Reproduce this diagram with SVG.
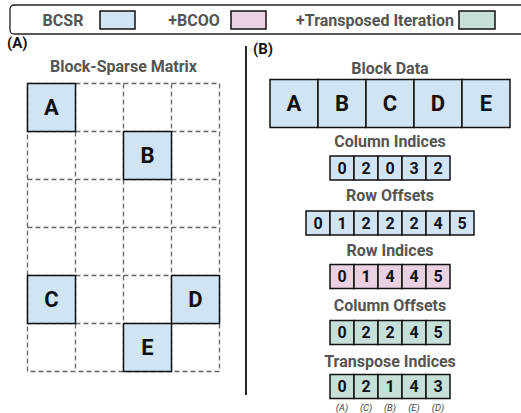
<svg xmlns="http://www.w3.org/2000/svg" width="521" height="413" viewBox="0 0 521 413">
<style>
text{font-family:Roboto,"Liberation Sans",sans-serif;font-weight:bold;text-anchor:middle}
.lg{font-size:16px;fill:#555}
.tt{font-size:16px;fill:#555}
.pl{font-size:15px;fill:#111;text-anchor:start}
.big{font-size:22px;fill:#111}
.dg{font-size:16px;fill:#111}
.sm{font-size:9.5px;fill:#444;font-style:italic;font-weight:normal}
.b{fill:#d1e4f3;stroke:#111;stroke-width:1.5}
.p{fill:#ebd2e2;stroke:#111;stroke-width:1.5}
.g{fill:#c6e0d9;stroke:#111;stroke-width:1.5}
.grid{stroke:#666;stroke-width:1.3;stroke-dasharray:5,3;fill:none}
</style>
<g id="legend">
<rect x="10" y="5" width="530" height="29" rx="4" fill="#fff" stroke="#222" stroke-width="1.3"/>
<text class="lg" x="63" y="25.5">BCSR</text>
<rect class="b" x="100" y="11" width="35" height="18" stroke-width="1.3"/>
<text class="lg" x="194" y="25.5">+BCOO</text>
<rect class="p" x="231" y="11" width="35" height="18" stroke-width="1.3"/>
<text class="lg" x="375" y="25.5">+Transposed Iteration</text>
<rect class="g" x="459" y="11" width="36" height="18" stroke-width="1.3"/>
</g>
<text class="pl" x="7" y="48">(A)</text>
<text class="pl" x="253" y="54">(B)</text>
<line x1="246" y1="46" x2="246" y2="395" stroke="#111" stroke-width="1.8"/>
<g id="matrix">
<text class="tt" x="123.5" y="72">Block-Sparse Matrix</text>
<g class="grid">
<rect x="27.5" y="83.5" width="192" height="288"/>
<line x1="75.5" y1="83.5" x2="75.5" y2="371.5"/>
<line x1="123.5" y1="83.5" x2="123.5" y2="371.5"/>
<line x1="171.5" y1="83.5" x2="171.5" y2="371.5"/>
<line x1="27.5" y1="131.5" x2="219.5" y2="131.5"/>
<line x1="27.5" y1="179.5" x2="219.5" y2="179.5"/>
<line x1="27.5" y1="227.5" x2="219.5" y2="227.5"/>
<line x1="27.5" y1="275.5" x2="219.5" y2="275.5"/>
<line x1="27.5" y1="323.5" x2="219.5" y2="323.5"/>
</g>
<g id="mA"><rect class="b" x="27.5" y="83.5" width="48" height="48"/><text class="big" x="51.5" y="115.3">A</text></g>
<g id="mB"><rect class="b" x="123.5" y="131.5" width="48" height="48"/><text class="big" x="147.5" y="163.3">B</text></g>
<g id="mC"><rect class="b" x="27.5" y="275.5" width="48" height="48"/><text class="big" x="51.5" y="307.3">C</text></g>
<g id="mD"><rect class="b" x="171.5" y="275.5" width="48" height="48"/><text class="big" x="195.5" y="307.3">D</text></g>
<g id="mE"><rect class="b" x="123.5" y="323.5" width="48" height="48"/><text class="big" x="147.5" y="355.3">E</text></g>
</g>
<g id="blockdata">
<text class="tt" x="390" y="73.5">Block Data</text>
<rect class="b" x="270" y="79.5" width="48" height="48"/><text class="big" x="294" y="111.3">A</text>
<rect class="b" x="318" y="79.5" width="48" height="48"/><text class="big" x="342" y="111.3">B</text>
<rect class="b" x="366" y="79.5" width="48" height="48"/><text class="big" x="390" y="111.3">C</text>
<rect class="b" x="414" y="79.5" width="48" height="48"/><text class="big" x="438" y="111.3">D</text>
<rect class="b" x="462" y="79.5" width="48" height="48"/><text class="big" x="486" y="111.3">E</text>
</g>
<g id="colidx">
<text class="tt" x="390" y="147">Column Indices</text>
<rect class="b" x="330" y="156" width="24" height="24"/><text class="dg" x="342" y="173.7">0</text>
<rect class="b" x="354" y="156" width="24" height="24"/><text class="dg" x="366" y="173.7">2</text>
<rect class="b" x="378" y="156" width="24" height="24"/><text class="dg" x="390" y="173.7">0</text>
<rect class="b" x="402" y="156" width="24" height="24"/><text class="dg" x="414" y="173.7">3</text>
<rect class="b" x="426" y="156" width="24" height="24"/><text class="dg" x="438" y="173.7">2</text>
</g>
<g id="rowoff">
<text class="tt" x="390" y="200.5">Row Offsets</text>
<rect class="b" x="306" y="211" width="24" height="24"/><text class="dg" x="318" y="228.7">0</text>
<rect class="b" x="330" y="211" width="24" height="24"/><text class="dg" x="342" y="228.7">1</text>
<rect class="b" x="354" y="211" width="24" height="24"/><text class="dg" x="366" y="228.7">2</text>
<rect class="b" x="378" y="211" width="24" height="24"/><text class="dg" x="390" y="228.7">2</text>
<rect class="b" x="402" y="211" width="24" height="24"/><text class="dg" x="414" y="228.7">2</text>
<rect class="b" x="426" y="211" width="24" height="24"/><text class="dg" x="438" y="228.7">4</text>
<rect class="b" x="450" y="211" width="24" height="24"/><text class="dg" x="462" y="228.7">5</text>
</g>
<g id="rowidx">
<text class="tt" x="390" y="256">Row Indices</text>
<rect class="p" x="330" y="264.5" width="24" height="24"/><text class="dg" x="342" y="282.2">0</text>
<rect class="p" x="354" y="264.5" width="24" height="24"/><text class="dg" x="366" y="282.2">1</text>
<rect class="p" x="378" y="264.5" width="24" height="24"/><text class="dg" x="390" y="282.2">4</text>
<rect class="p" x="402" y="264.5" width="24" height="24"/><text class="dg" x="414" y="282.2">4</text>
<rect class="p" x="426" y="264.5" width="24" height="24"/><text class="dg" x="438" y="282.2">5</text>
</g>
<g id="coloff">
<text class="tt" x="390" y="310.5">Column Offsets</text>
<rect class="g" x="330" y="320.5" width="24" height="24"/><text class="dg" x="342" y="338.2">0</text>
<rect class="g" x="354" y="320.5" width="24" height="24"/><text class="dg" x="366" y="338.2">2</text>
<rect class="g" x="378" y="320.5" width="24" height="24"/><text class="dg" x="390" y="338.2">2</text>
<rect class="g" x="402" y="320.5" width="24" height="24"/><text class="dg" x="414" y="338.2">4</text>
<rect class="g" x="426" y="320.5" width="24" height="24"/><text class="dg" x="438" y="338.2">5</text>
</g>
<g id="transidx">
<text class="tt" x="390" y="366.5">Transpose Indices</text>
<rect class="g" x="330" y="374.5" width="24" height="24"/><text class="dg" x="342" y="392.2">0</text>
<rect class="g" x="354" y="374.5" width="24" height="24"/><text class="dg" x="366" y="392.2">2</text>
<rect class="g" x="378" y="374.5" width="24" height="24"/><text class="dg" x="390" y="392.2">1</text>
<rect class="g" x="402" y="374.5" width="24" height="24"/><text class="dg" x="414" y="392.2">4</text>
<rect class="g" x="426" y="374.5" width="24" height="24"/><text class="dg" x="438" y="392.2">3</text>
<text class="sm" x="342" y="411">(A)</text>
<text class="sm" x="366" y="411">(C)</text>
<text class="sm" x="390" y="411">(B)</text>
<text class="sm" x="414" y="411">(E)</text>
<text class="sm" x="438" y="411">(D)</text>
</g>
</svg>
